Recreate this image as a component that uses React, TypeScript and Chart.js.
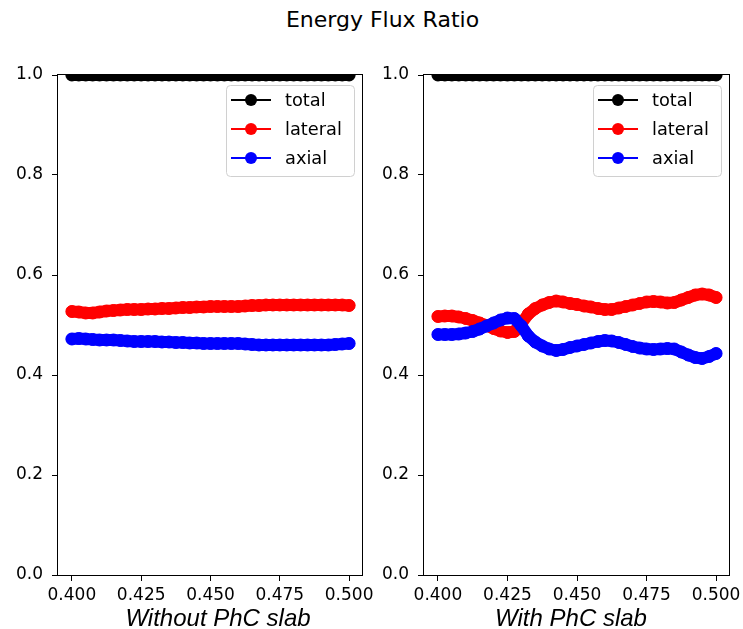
import { useEffect, useRef } from "react";
import { Chart, registerables } from "chart.js";

Chart.register(...registerables);

// Frequency grid shared by both panels
const frequencies = [
  0.4, 0.4025, 0.405, 0.4075, 0.41, 0.4125, 0.415, 0.4175, 0.42, 0.4225,
  0.425, 0.4275, 0.43, 0.4325, 0.435, 0.4375, 0.44, 0.4425, 0.445, 0.4475,
  0.45, 0.4525, 0.455, 0.4575, 0.46, 0.4625, 0.465, 0.4675, 0.47, 0.4725,
  0.475, 0.4775, 0.48, 0.4825, 0.485, 0.4875, 0.49, 0.4925, 0.495, 0.4975,
  0.5,
];

const xTickValues = [0.4, 0.425, 0.45, 0.475, 0.5];
const yTickValues = [0.0, 0.2, 0.4, 0.6, 0.8, 1.0];

const seriesLabels = ["total", "lateral", "axial"];
const seriesColors = ["#000000", "#ff0000", "#0000ff"];

// Without PhC slab
const totalNoSlab = [
  1.0, 1.0, 1.0, 1.0, 1.0, 1.0, 1.0, 1.0, 1.0, 1.0,
  1.0, 1.0, 1.0, 1.0, 1.0, 1.0, 1.0, 1.0, 1.0, 1.0,
  1.0, 1.0, 1.0, 1.0, 1.0, 1.0, 1.0, 1.0, 1.0, 1.0,
  1.0, 1.0, 1.0, 1.0, 1.0, 1.0, 1.0, 1.0, 1.0, 1.0,
  1.0,
];
const lateralNoSlab = [
  0.527, 0.526, 0.524, 0.524, 0.526, 0.528, 0.529, 0.53, 0.531, 0.531,
  0.531, 0.532, 0.532, 0.533, 0.533, 0.534, 0.535, 0.535, 0.536, 0.536,
  0.537, 0.537, 0.537, 0.537, 0.537, 0.538, 0.539, 0.539, 0.54, 0.54,
  0.54, 0.54, 0.54, 0.54, 0.54, 0.54, 0.54, 0.54, 0.54, 0.54,
  0.539,
];
const axialNoSlab = [
  0.472, 0.473, 0.472, 0.471, 0.47, 0.47, 0.47, 0.469, 0.468, 0.467,
  0.467, 0.467, 0.467, 0.466, 0.466, 0.465, 0.465, 0.464, 0.464, 0.463,
  0.463, 0.463, 0.463, 0.463, 0.463, 0.462, 0.461, 0.46, 0.46, 0.46,
  0.46, 0.46, 0.46, 0.46, 0.46, 0.46, 0.46, 0.46, 0.461, 0.462,
  0.463,
];

// With PhC slab
const totalSlab = [
  1.0, 1.0, 1.0, 1.0, 1.0, 1.0, 1.0, 1.0, 1.0, 1.0,
  1.0, 1.0, 1.0, 1.0, 1.0, 1.0, 1.0, 1.0, 1.0, 1.0,
  1.0, 1.0, 1.0, 1.0, 1.0, 1.0, 1.0, 1.0, 1.0, 1.0,
  1.0, 1.0, 1.0, 1.0, 1.0, 1.0, 1.0, 1.0, 1.0, 1.0,
  1.0,
];
const lateralSlab = [
  0.517, 0.518, 0.518, 0.516, 0.513, 0.509, 0.504, 0.499, 0.493, 0.488,
  0.485, 0.487, 0.503, 0.522, 0.533, 0.54, 0.545, 0.548, 0.546, 0.543,
  0.541, 0.538, 0.536, 0.533, 0.531, 0.531, 0.534, 0.537, 0.54, 0.543,
  0.546, 0.547, 0.546, 0.544, 0.545, 0.55, 0.555, 0.56, 0.562, 0.56,
  0.555,
];
const axialSlab = [
  0.481, 0.481, 0.481, 0.482, 0.484, 0.487, 0.492, 0.498, 0.504, 0.51,
  0.514, 0.513, 0.498, 0.478, 0.466, 0.458, 0.452, 0.449, 0.451, 0.455,
  0.458, 0.461, 0.464, 0.467, 0.469, 0.468, 0.465, 0.461, 0.457, 0.454,
  0.452, 0.451, 0.452, 0.453, 0.452, 0.446, 0.44, 0.435, 0.433, 0.437,
  0.443,
];

const TICK_FONT = { family: "DejaVu Sans", size: 17 };

// Full box around the plotting area
const framePlugin = {
  id: "frame",
  afterDatasetsDraw(chart: Chart) {
    const { ctx, chartArea } = chart;
    ctx.save();
    ctx.strokeStyle = "#000";
    ctx.lineWidth = 1;
    ctx.strokeRect(
      Math.round(chartArea.left) - 0.5,
      Math.round(chartArea.top) - 0.5,
      Math.round(chartArea.right - chartArea.left),
      Math.round(chartArea.bottom - chartArea.top) + 1
    );
    ctx.restore();
  },
};

// Framed legend in the upper-right corner, line + marker samples
const boxLegendPlugin = {
  id: "boxLegend",
  afterDraw(chart: Chart) {
    const { ctx, chartArea } = chart;
    const w = 128;
    const h = 91;
    const x = chartArea.right - 9 - w;
    const y = chartArea.top + 10;
    ctx.save();
    ctx.beginPath();
    ctx.roundRect(x + 0.5, y + 0.5, w, h, 4);
    ctx.fillStyle = "rgba(255,255,255,0.8)";
    ctx.fill();
    ctx.strokeStyle = "#d0d0d0";
    ctx.lineWidth = 1;
    ctx.stroke();
    ctx.font = "17.8px 'DejaVu Sans'";
    ctx.textBaseline = "middle";
    ctx.textAlign = "left";
    chart.data.datasets.forEach((ds: any, i: number) => {
      const cy = y + 15 + i * 29;
      ctx.strokeStyle = ds.borderColor;
      ctx.lineWidth = 2;
      ctx.beginPath();
      ctx.moveTo(x + 5, cy);
      ctx.lineTo(x + 45, cy);
      ctx.stroke();
      ctx.fillStyle = ds.borderColor;
      ctx.beginPath();
      ctx.arc(x + 25, cy, 6, 0, Math.PI * 2);
      ctx.fill();
      ctx.fillStyle = "#000";
      ctx.fillText(ds.label, x + 59, cy + 1);
    });
    ctx.restore();
  },
};

type PanelProps = {
  left: number;
  width: number;
  rightPad: number;
  series: number[][];
};

function Panel({ left, width, rightPad, series }: PanelProps) {
  const ref = useRef<HTMLCanvasElement | null>(null);

  useEffect(() => {
    if (!ref.current) return;
    const datasets = series.map((vals, i) => ({
      label: seriesLabels[i],
      data: frequencies.map((f, k) => ({ x: f, y: vals[k] })),
      borderColor: seriesColors[i],
      backgroundColor: seriesColors[i],
      borderWidth: 12,
      borderCapStyle: "round" as const,
      borderJoinStyle: "round" as const,
      pointRadius: 6,
      pointBorderWidth: 1,
      pointHoverRadius: 6,
      pointBackgroundColor: seriesColors[i],
      pointBorderColor: seriesColors[i],
      tension: 0,
      clip: 0,
      order: series.length - 1 - i,
    }));

    const chart = new Chart(ref.current, {
      type: "line",
      data: { datasets },
      options: {
        animation: false,
        responsive: false,
        maintainAspectRatio: false,
        devicePixelRatio: 1,
        layout: {
          autoPadding: false,
          padding: { top: 75, right: rightPad, left: 0, bottom: 0 },
        },
        plugins: {
          legend: { display: false },
          tooltip: { enabled: false },
          title: { display: false },
        },
        scales: {
          x: {
            type: "linear",
            min: 0.395,
            max: 0.505,
            afterBuildTicks: (scale: any) => {
              scale.ticks = xTickValues.map((v) => ({ value: v }));
            },
            afterFit: (scale: any) => {
              scale.height = 54;
              scale.paddingLeft = 0;
              scale.paddingRight = 0;
            },
            ticks: {
              font: TICK_FONT,
              color: "#000",
              padding: 4,
              maxRotation: 0,
              autoSkip: false,
              callback: (v: any) => Number(v).toFixed(3),
            },
            grid: {
              display: true,
              drawOnChartArea: false,
              drawTicks: true,
              tickLength: 6,
              color: "#000",
            },
            border: { display: false },
          },
          y: {
            type: "linear",
            min: 0,
            max: 1,
            afterBuildTicks: (scale: any) => {
              scale.ticks = yTickValues.map((v) => ({ value: v }));
            },
            afterFit: (scale: any) => {
              scale.width = 58;
              scale.paddingTop = 0;
              scale.paddingBottom = 0;
            },
            ticks: {
              font: TICK_FONT,
              color: "#000",
              padding: 9,
              callback: (v: any) => Number(v).toFixed(1),
            },
            grid: {
              display: true,
              drawOnChartArea: false,
              drawTicks: true,
              tickLength: 6,
              color: "#000",
            },
            border: { display: false },
          },
        },
      },
      plugins: [framePlugin, boxLegendPlugin],
    });
    return () => chart.destroy();
  }, [series, rightPad]);

  return (
    <canvas
      ref={ref}
      width={width}
      height={629}
      style={{ position: "absolute", left, top: 0, width, height: 629 }}
    />
  );
}

const captionStyle = {
  position: "absolute" as const,
  top: 606,
  width: 300,
  textAlign: "center" as const,
  fontFamily: "'Liberation Sans'",
  fontStyle: "italic",
  fontSize: 24,
  lineHeight: "24px",
  color: "#000",
  whiteSpace: "nowrap" as const,
};

export default function App() {
  return (
    <div
      style={{
        position: "absolute",
        left: 0,
        top: 0,
        width: 743,
        height: 629,
        background: "#fff",
        overflow: "hidden",
      }}
    >
      <div
        style={{
          position: "absolute",
          left: 0,
          top: 9,
          width: 765,
          textAlign: "center",
          fontFamily: "'DejaVu Sans'",
          fontSize: 22,
          lineHeight: "22px",
          color: "#000",
        }}
      >
        Energy Flux Ratio
      </div>
      <Panel
        left={0}
        width={380}
        rightPad={17}
        series={[totalNoSlab, lateralNoSlab, axialNoSlab]}
      />
      <Panel
        left={366}
        width={377}
        rightPad={13}
        series={[totalSlab, lateralSlab, axialSlab]}
      />
      <div style={{ ...captionStyle, left: 218 - 150 }}>Without PhC slab</div>
      <div style={{ ...captionStyle, left: 571 - 150 }}>With PhC slab</div>
    </div>
  );
}
